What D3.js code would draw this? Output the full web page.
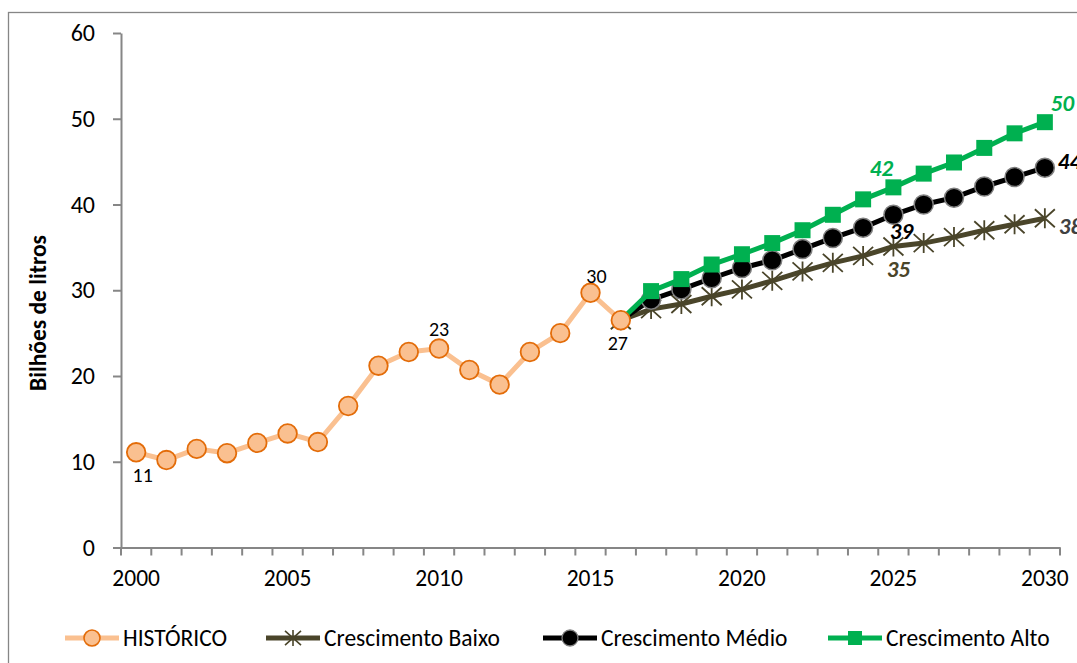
<!DOCTYPE html>
<html>
<head>
<meta charset="utf-8">
<script src="https://cdn.jsdelivr.net/npm/d3@7"></script>
<style>
  body { margin: 0; background: #fff; }
  svg text { font-family: Carlito, Calibri, "Noto Sans", sans-serif; }
</style>
</head>
<body>
<div class="chart"></div>
<script>
// data
var years = d3.range(2000, 2031)
var histYears = d3.range(2000, 2017)
var projYears = d3.range(2016, 2031)

var historico = [11.1, 10.2, 11.5, 11.0, 12.2, 13.3, 12.3, 16.5, 21.2, 22.8, 23.2, 20.7, 19.0, 22.8, 25.0, 29.7, 26.5]
var baixo = [26.5, 27.8, 28.4, 29.3, 30.1, 31.1, 32.2, 33.2, 34.0, 35.1, 35.5, 36.2, 37.0, 37.7, 38.4]
var medio = [26.5, 28.9, 30.1, 31.4, 32.6, 33.5, 34.8, 36.1, 37.3, 38.8, 40.0, 40.8, 42.1, 43.2, 44.3]
var alto = [26.5, 29.9, 31.3, 33.0, 34.2, 35.5, 37.0, 38.8, 40.6, 42.0, 43.6, 44.9, 46.6, 48.3, 49.6]

var yTicks = [0, 10, 20, 30, 40, 50, 60]
var xLabelYears = [2000, 2005, 2010, 2015, 2020, 2025, 2030]

var W = 1077, H = 663

var svg = d3.select('.chart').append('svg')
    .attr('width', W)
    .attr('height', H)

// chart border
svg.append('rect')
    .attr('x', 8.5).attr('y', 12.5)
    .attr('width', 1200).attr('height', 800)
    .attr('fill', 'none')
    .attr('stroke', '#868686')
    .attr('stroke-width', 1.3)

// scales
var x = d3.scaleBand()
    .domain(years)
    .range([121, 1060])
    .padding(0)

var y = d3.scaleLinear()
    .domain([0, 60])
    .range([547.5, 33])

function cx(yr) { return x(yr) + x.bandwidth() / 2 }

// y axis
var yAx = svg.append('g')
    .attr('transform', 'translate(121,0)')
    .call(d3.axisLeft(y).tickValues(yTicks).tickSize(8).tickSizeOuter(0).tickPadding(18))
yAx.select('.domain').attr('stroke', '#868686').attr('stroke-width', 2)
yAx.selectAll('.tick line').attr('stroke', '#868686').attr('stroke-width', 2)
yAx.selectAll('.tick text').style('font-size', '24px').attr('fill', '#000')

// x axis: labels at category centres, ticks at category boundaries
var xAx = svg.append('g')
    .attr('transform', 'translate(0,547.5)')
    .call(d3.axisBottom(x).tickValues(xLabelYears).tickSize(0).tickSizeOuter(0).tickPadding(22))
xAx.select('.domain').attr('stroke', '#868686').attr('stroke-width', 2)
xAx.selectAll('.tick text').style('font-size', '23.5px').attr('fill', '#000')

xAx.selectAll('.bound')
    .data(years.concat([2031]))
    .enter().append('line')
    .attr('class', 'bound')
    .attr('x1', function(d){ return d === 2031 ? 1060 : x(d) })
    .attr('x2', function(d){ return d === 2031 ? 1060 : x(d) })
    .attr('y1', 0).attr('y2', 8)
    .attr('stroke', '#868686')
    .attr('stroke-width', 2)

// y axis title
svg.append('text')
    .attr('transform', 'translate(46,313) rotate(-90)')
    .attr('text-anchor', 'middle')
    .style('font-size', '23.5px')
    .style('font-weight', 'bold')
    .text('Bilhões de litros')

var line = d3.line()
    .x(function(d){ return cx(d.year) })
    .y(function(d){ return y(d.value) })

function pairs(yrs, vals) {
    return yrs.map(function(yr, i){ return {year: yr, value: vals[i]} })
}

var cBaixo = '#4a452a', cMedio = '#000000', cAlto = '#00b050'
var cHist = '#fac090', cHistStroke = '#e36c09'

var starPath = 'M-10,-9L10,9M-10,9L10,-9M0,-10L0,10'

// Crescimento Baixo
var dBaixo = pairs(projYears, baixo)
svg.append('path').datum(dBaixo)
    .attr('d', line).attr('fill', 'none')
    .attr('stroke', cBaixo).attr('stroke-width', 5)
svg.selectAll('.star').data(dBaixo).enter().append('path')
    .attr('class', 'star')
    .attr('transform', function(d){ return 'translate(' + cx(d.year) + ',' + y(d.value) + ')' })
    .attr('d', starPath)
    .attr('stroke', cBaixo).attr('stroke-width', 1.8).attr('fill', 'none')

// Crescimento Médio
var dMedio = pairs(projYears, medio)
svg.append('path').datum(dMedio)
    .attr('d', line).attr('fill', 'none')
    .attr('stroke', cMedio).attr('stroke-width', 5)
svg.selectAll('.dot').data(dMedio.slice(1)).enter().append('circle')
    .attr('class', 'dot')
    .attr('cx', function(d){ return cx(d.year) })
    .attr('cy', function(d){ return y(d.value) })
    .attr('r', 9.5)
    .attr('fill', '#000').attr('stroke', '#7f7f7f').attr('stroke-width', 1.5)

// Crescimento Alto
var dAlto = pairs(projYears, alto)
svg.append('path').datum(dAlto)
    .attr('d', line).attr('fill', 'none')
    .attr('stroke', cAlto).attr('stroke-width', 5)
svg.selectAll('.sq').data(dAlto.slice(1)).enter().append('rect')
    .attr('class', 'sq')
    .attr('x', function(d){ return cx(d.year) - 8 })
    .attr('y', function(d){ return y(d.value) - 8 })
    .attr('width', 16).attr('height', 16)
    .attr('fill', cAlto)

// HISTÓRICO
var dHist = pairs(histYears, historico)
svg.append('path').datum(dHist)
    .attr('d', line).attr('fill', 'none')
    .attr('stroke', cHist).attr('stroke-width', 5)
svg.selectAll('.hdot').data(dHist).enter().append('circle')
    .attr('class', 'hdot')
    .attr('cx', function(d){ return cx(d.year) })
    .attr('cy', function(d){ return y(d.value) })
    .attr('r', 9.3)
    .attr('fill', cHist).attr('stroke', cHistStroke).attr('stroke-width', 1.8)

// data labels (offsets from their point)
var labels = [
    {year: 2000, value: historico[0], dx: 6.5, dy: 29.5, color: '#000', bold: false, anchor: 'middle'},
    {year: 2010, value: historico[10], dx: 0, dy: -12.5, color: '#000', bold: false, anchor: 'middle'},
    {year: 2015, value: historico[15], dx: 6, dy: -10, color: '#000', bold: false, anchor: 'middle'},
    {year: 2016, value: historico[16], dx: -3, dy: 30, color: '#000', bold: false, anchor: 'middle'},
    {year: 2025, value: alto[9], dx: -12, dy: -11.5, color: cAlto, bold: true, anchor: 'middle'},
    {year: 2030, value: alto[14], dx: 6, dy: -11, color: cAlto, bold: true, anchor: 'start'},
    {year: 2025, value: medio[9], dx: 8, dy: 24, color: '#000', bold: true, anchor: 'middle'},
    {year: 2030, value: medio[14], dx: 13, dy: 1.7, color: '#000', bold: true, anchor: 'start'},
    {year: 2025, value: baixo[9], dx: 5, dy: 30, color: cBaixo, bold: true, anchor: 'middle'},
    {year: 2030, value: baixo[14], dx: 14, dy: 16, color: '#404040', bold: true, anchor: 'start'}
]
svg.selectAll('.dlab').data(labels).enter().append('text')
    .attr('class', 'dlab')
    .attr('x', function(d){ return cx(d.year) + d.dx })
    .attr('y', function(d){ return y(d.value) + d.dy })
    .attr('text-anchor', function(d){ return d.anchor })
    .attr('fill', function(d){ return d.color })
    .style('font-size', function(d){ return d.bold ? '23px' : '20px' })
    .style('font-weight', function(d){ return d.bold ? 'bold' : 'normal' })
    .style('font-style', function(d){ return d.bold ? 'italic' : 'normal' })
    .text(function(d){ return Math.round(d.value) })

// legend
var legendNames = ['HISTÓRICO', 'Crescimento Baixo', 'Crescimento Médio', 'Crescimento Alto']
var legendX = [65, 266, 543, 828]
var legendColors = [cHist, cBaixo, cMedio, cAlto]
var ly = 638

var lg = svg.selectAll('.leg').data(legendNames).enter().append('g')
    .attr('class', 'leg')
    .attr('transform', function(d, i){ return 'translate(' + legendX[i] + ',' + ly + ')' })
lg.append('line')
    .attr('x1', 0).attr('x2', 54).attr('y1', 0).attr('y2', 0)
    .attr('stroke', function(d, i){ return legendColors[i] })
    .attr('stroke-width', 5)
lg.each(function(d, i){
    var g = d3.select(this)
    if (i === 0) {
        g.append('circle').attr('cx', 27).attr('r', 8)
            .attr('fill', cHist).attr('stroke', cHistStroke).attr('stroke-width', 1.6)
    } else if (i === 1) {
        g.append('path').attr('transform', 'translate(27,0) scale(0.8)')
            .attr('d', starPath).attr('stroke', cBaixo).attr('stroke-width', 2).attr('fill', 'none')
    } else if (i === 2) {
        g.append('circle').attr('cx', 27).attr('r', 8)
            .attr('fill', '#000').attr('stroke', '#7f7f7f').attr('stroke-width', 1.3)
    } else {
        g.append('rect').attr('x', 20).attr('y', -7).attr('width', 14).attr('height', 14)
            .attr('fill', cAlto)
    }
})
lg.append('text')
    .attr('x', 58).attr('y', 0).attr('dy', '0.35em')
    .style('font-size', '23.5px')
    .text(function(d){ return d })
</script>
</body>
</html>
